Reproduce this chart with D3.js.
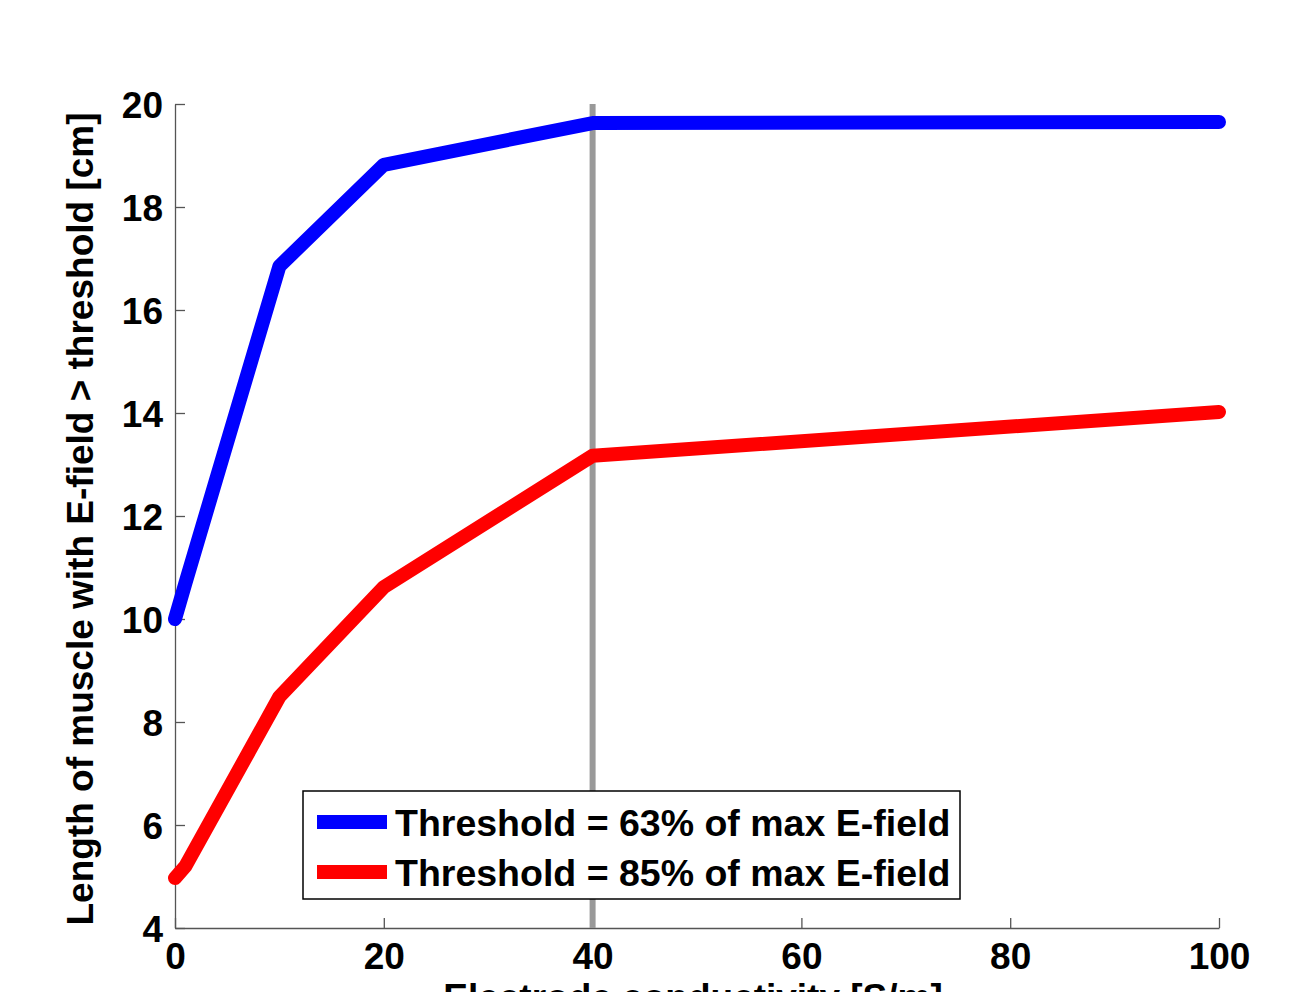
<!DOCTYPE html>
<meta charset="utf-8">
<html>
<title>E-field length vs conductivity</title>
<script src="https://d3js.org/d3.v7.min.js"></script>
<style>
  body {margin: 0; background: #fff; font-family: "Liberation Sans", Arial, sans-serif;}
  .axis text {font: bold 37px "Liberation Sans", Arial, sans-serif; fill: #000;}
  .axis path, .axis line {stroke: #555; stroke-width: 1.3px;}
  .label {font: bold 37px "Liberation Sans", Arial, sans-serif; fill: #000;}
  .legend text {font: bold 37.5px "Liberation Sans", Arial, sans-serif; fill: #000;}
  .line {fill: none; stroke-width: 14px; stroke-linejoin: round; stroke-linecap: round;}
</style>
<body>
<svg id="chart" width="1297" height="992"></svg>
<script>
// data
var conductivity = [0, 1, 10, 20, 40, 100];
var len63 = [10.0, 10.7, 16.85, 18.82, 19.63, 19.65];
var len85 = [4.97, 5.2, 8.49, 10.62, 13.17, 14.02];
var seriesNames = ["Threshold = 63% of max E-field", "Threshold = 85% of max E-field"];
var seriesColors = ["#0000ff", "#ff0000"];
var xTicks = [0, 20, 40, 60, 80, 100];
var yTicks = [4, 6, 8, 10, 12, 14, 16, 18, 20];
var markerX = 40;

var svg = d3.select("#chart"),
    margin = {top: 104, right: 78, bottom: 64, left: 175},
    width = +svg.attr("width") - margin.left - margin.right,
    height = +svg.attr("height") - margin.top - margin.bottom;

var x = d3.scaleLinear().domain([0, 100]).range([0, width]),
    y = d3.scaleLinear().domain([4, 20]).range([height, 0]);

var g = svg.append("g")
    .attr("transform", "translate(" + margin.left + "," + margin.top + ")");

// axes, ticks pointing inward like matlab
var xAxis = g.append("g")
    .attr("class", "axis")
    .attr("transform", "translate(0," + height + ")")
    .call(d3.axisBottom(x).tickValues(xTicks).tickSizeInner(-10).tickSizeOuter(0).tickPadding(28));
xAxis.selectAll("text").attr("dy", "0.35em");

var yAxis = g.append("g")
    .attr("class", "axis")
    .call(d3.axisLeft(y).tickValues(yTicks).tickSizeInner(-10).tickSizeOuter(0).tickPadding(12));
yAxis.selectAll("text").attr("dy", "0.36em");

// grey marker at 40 S/m
g.append("line")
    .attr("x1", x(markerX)).attr("x2", x(markerX))
    .attr("y1", y(20)).attr("y2", y(4))
    .attr("stroke", "#999")
    .attr("stroke-width", 6);

var line = d3.line()
    .x(function (d) { return x(d[0]); })
    .y(function (d) { return y(d[1]); });

[len63, len85].forEach(function (vals, i) {
  g.append("path")
      .datum(d3.zip(conductivity, vals))
      .attr("class", "line")
      .attr("stroke", seriesColors[i])
      .attr("d", line);
});

// axis labels
svg.append("text")
    .attr("class", "label")
    .attr("text-anchor", "middle")
    .attr("transform", "translate(93," + (margin.top + height / 2 + 3) + ") rotate(-90)")
    .text("Length of muscle with E-field > threshold [cm]");

// the x label runs off the bottom edge in the original figure too
svg.append("text")
    .attr("class", "label")
    .attr("text-anchor", "middle")
    .attr("x", 693)
    .attr("y", 1010)
    .text("Electrode conductivity [S/m]");

// legend
var legend = g.append("g")
    .attr("class", "legend")
    .attr("transform", "translate(" + (303 - margin.left) + "," + (791 - margin.top) + ")");

legend.append("rect")
    .attr("width", 657).attr("height", 108)
    .attr("fill", "#fff")
    .attr("stroke", "#000")
    .attr("stroke-width", 1.5);

seriesNames.forEach(function (name, i) {
  var row = legend.append("g").attr("transform", "translate(0," + (31 + i * 50) + ")");
  row.append("line")
      .attr("x1", 14).attr("x2", 84)
      .attr("stroke", seriesColors[i])
      .attr("stroke-width", 14);
  row.append("text")
      .attr("x", 92)
      .attr("dy", "0.36em")
      .text(name);
});
</script>
</body>
</html>
